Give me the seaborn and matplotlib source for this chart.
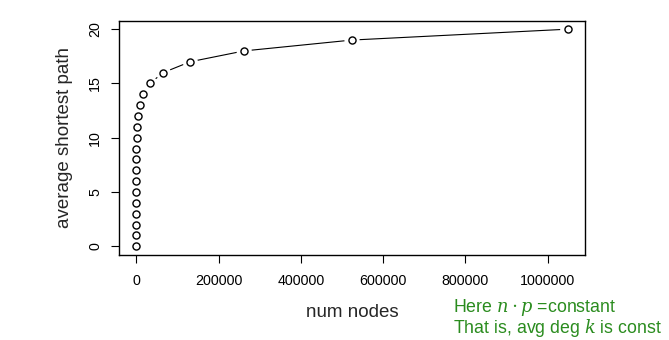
import matplotlib
matplotlib.use("Agg")
import matplotlib.pyplot as plt
import seaborn as sns
import pandas as pd

num_nodes = [1, 2, 4, 8, 16, 32, 64, 128, 256, 512, 1024, 2048, 4096, 8192,
             16384, 32768, 65536, 131072, 262144, 524288, 1048576]
avg_path = [0, 1, 2, 3, 4, 5, 6, 7, 8, 9, 10, 11, 12, 13, 14, 15, 16, 17, 18, 19, 20]
x_ticks = [0, 200000, 400000, 600000, 800000, 1000000]
y_ticks = [0, 5, 10, 15, 20]

df = pd.DataFrame({"n": num_nodes, "l": avg_path})

sns.set_style("white")
plt.rcParams["font.family"] = ["Liberation Sans", "DejaVu Sans"]
plt.rcParams["mathtext.fontset"] = "dejavuserif"

fig = plt.figure(figsize=(6.69, 3.40), dpi=100)
ax = fig.add_axes([119/669, 85/340, (585-119)/669, (255-20.5)/340])

sns.lineplot(data=df, x="n", y="l", ax=ax, color="black", lw=0.8, zorder=1)
sns.scatterplot(data=df, x="n", y="l", ax=ax, s=120, color="white",
                edgecolor="none", linewidth=0, zorder=2)
sns.scatterplot(data=df, x="n", y="l", ax=ax, s=26, facecolor="white",
                edgecolor="black", linewidth=1.0, zorder=3)

ax.set_xlim(-41943, 1090519)
ax.set_ylim(-0.8, 20.8)
ax.set_xticks(x_ticks)
ax.set_xticklabels([str(v) for v in x_ticks])
ax.set_yticks(y_ticks)
ax.set_yticklabels([str(v) for v in y_ticks], rotation=90, va="center")
ax.tick_params(axis="both", direction="out", length=6, width=0.8,
               labelsize=10.3, color="black", labelcolor="black", pad=4,
               bottom=True, left=True)
ax.tick_params(axis="x", pad=8)
ax.tick_params(axis="y", pad=6)
for s in ax.spines.values():
    s.set_visible(True)
    s.set_color("black")
    s.set_linewidth(1.0)

ax.set_xlabel("num nodes", fontsize=13.5, labelpad=11)
ax.set_ylabel("average shortest path", fontsize=13.5, labelpad=11)

green = "#2a8c1e"
fig.text(453/669, 1 - 307/340, r"Here $n\cdot p$ =constant", color=green,
         fontsize=12.8, va="center", ha="left")
fig.text(453/669, 1 - 328/340, r"That is, avg deg $k$ is const", color=green,
         fontsize=12.8, va="center", ha="left")

fig.savefig("out.png", dpi=100)
